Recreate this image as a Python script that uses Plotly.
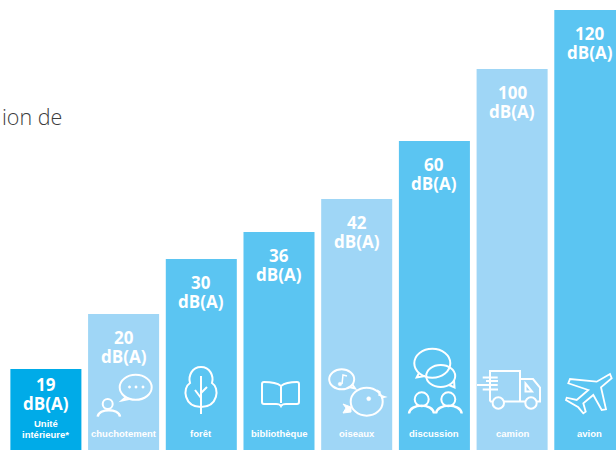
import plotly.graph_objects as go

categories = ["Unité<br>intérieure*", "chuchotement", "forêt", "bibliothèque", "oiseaux", "discussion", "camion", "avion"]
db_values = [19, 20, 30, 36, 42, 60, 100, 120]
# Bar lengths as drawn in the picture: they are not proportional to the dB values.
bar_lengths = [81, 136, 191, 218, 251, 309, 381, 440]
bar_colors = ["#00ABE8", "#9FD6F6", "#5BC5F2", "#5BC5F2", "#9FD6F6", "#5BC5F2", "#9FD6F6", "#5BC5F2"]
unit = "dB(A)"
fragment = "ion de"

WHITE = "#FFFFFF"
VALUE_FONT = "Open Sans"
LABEL_FONT = "Liberation Sans"

fig = go.Figure()
xs = list(range(len(categories)))
fig.add_bar(x=xs, y=bar_lengths, width=0.914, marker=dict(color=bar_colors, line_width=0), hoverinfo="skip")
fig.add_scatter(x=[], y=[], xaxis="x2", yaxis="y2", hoverinfo="skip")

ann = []
for i, (v, h) in enumerate(zip(db_values, bar_lengths)):
    off = 15 if i == 0 else 23
    ann.append(dict(x=i, y=h, xref="x", yref="y", text=f"<b>{v}</b>", showarrow=False, yanchor="middle",
                    yshift=-off, font=dict(family=VALUE_FONT, size=17, color=WHITE)))
    ann.append(dict(x=i, y=h, xref="x", yref="y", text=f"<b>{unit}</b>", showarrow=False, yanchor="middle",
                    yshift=-(off + 19), font=dict(family=VALUE_FONT, size=17, color=WHITE)))
    if "<br>" in categories[i]:
        a, b = categories[i].split("<br>")
        lines = [(a, 27), (b, 16)]
    else:
        lines = [(categories[i], 17)]
    for t, yy in lines:
        ann.append(dict(x=i, y=yy, xref="x", yref="y", text=f"<b>{t}</b>", showarrow=False, yanchor="middle",
                        font=dict(family=LABEL_FONT, size=9.5, color=WHITE)))
ann.append(dict(x=0, y=116, xref="x2", yref="y2", text=fragment, showarrow=False, xanchor="left", yanchor="middle",
                font=dict(family="Open Sans", size=21.5, color="#3C3C3C", weight=300)))

shapes = []
def stroke(path, w=2, fill=None):
    s = dict(type="path", path=path, xref="x2", yref="y2", line=dict(color=WHITE, width=w), layer="above")
    if fill:
        s["fillcolor"] = fill
    shapes.append(s)

def ell(cx, cy, rx, ry=None, w=2, fill=False):
    ry = rx if ry is None else ry
    s = dict(type="circle", x0=cx - rx, x1=cx + rx, y0=cy - ry, y1=cy + ry, xref="x2", yref="y2",
             line=dict(color=WHITE, width=w), layer="above")
    if fill:
        s["fillcolor"] = WHITE
    shapes.append(s)

def person(cx, hy, r, sl, sr, base, peak):
    ell(cx, hy, r)
    stroke(f"M{sl},{base} C{sl+1},{peak} {sr-1},{peak} {sr},{base}", w=2.4)

# whisper
ell(135.7, 387.3, 16, 12.5)
stroke("M126,397 L122,400.5 L129,399")
for dx in (129.5, 136, 143):
    ell(dx, 387, 1.2, w=0.5, fill=True)
person(107.7, 404, 5, 97.7, 120, 416.7, 408)
# tree
stroke("M201,367 C192,367 188,376 190,383 C182,388 184,407 201,407 C218,407 220,388 212,383 C214,376 210,367 201,367 Z")
stroke("M201,376 L201,414 M201,398 L195,390 M201,393 L207,387")
# book
stroke("M281,386 C276,382 268,382 264,382 Q262,382 262,384 L262,402 Q262,404 264,404 L276,404 Q280,404 281,406 Q282,404 286,404 L297,404 Q299,404 299,402 L299,384 Q299,382 297,382 C293,382 286,382 281,386 Z M281,386 L281,403")
# birds
ell(341.7, 379.3, 12.5, 10)
stroke("M349,387 L355,388.5 L352,384")
stroke("M342,384 L343,375 L347,376", w=1.5)
ell(340, 384, 1.8, w=0.5, fill=True)
ell(366.7, 401.7, 16, 14)
ell(368.7, 398.7, 2, w=0.5, fill=True)
stroke("M377,390 L380,392 L379,395 L385,397 L381,398", w=1.5)
stroke("M351,407 L343,404 L346,408 L343,413 L351,412 Z", w=1, fill=WHITE)
# discussion
ell(432.3, 363.3, 18, 14.5)
stroke("M419,373 L416.7,377.5 L425,376")
ell(440.7, 376, 14.5, 11)
stroke("M449,385 L454.5,387.5 L454,380")
person(421.7, 399.3, 7, 409, 434, 413.5, 403)
person(448.3, 399.3, 7, 436, 461.7, 413.5, 403)
# truck
stroke("M490,401.5 L490,371 L520,371 L520,401.5 M520,379 L533,379 L540,387.5 L540,401.5 L537,401.5 M525,401.5 L520,401.5 L504,401.5 M492,401.5 L490,401.5")
stroke("M525.5,383.5 L532,391.5 L525.5,391.5 Z")
ell(498.3, 403, 5.7)
ell(531, 403, 5.7)
stroke("M482.7,377.5 L497.7,377.5 M486,381 L498,381 M477,385 L497.7,385 M482.7,389.5 L498,389.5")
# plane
pts = [(900, 222), (860, 245), (780, 237), (775, 250), (835, 270), (800, 300), (770, 293), (768, 300), (805, 322),
       (820, 340), (827, 335), (820, 310), (850, 285), (875, 330), (888, 328), (873, 262), (905, 235)]
stroke("M" + " L".join(f"{310 + a / 3:.1f},{300 + b / 3:.1f}" for a, b in pts) + " Z", w=1.8)

fig.update_layout(
    width=616, height=450, margin=dict(l=0, r=0, t=0, b=0), autosize=False,
    paper_bgcolor="white", plot_bgcolor="white", showlegend=False,
    xaxis=dict(range=[-0.5906, 7.337], visible=False, fixedrange=True),
    yaxis=dict(range=[0, 450], visible=False, fixedrange=True),
    xaxis2=dict(range=[0, 616], visible=False, overlaying="x", fixedrange=True),
    yaxis2=dict(range=[450, 0], visible=False, overlaying="y", fixedrange=True),
    annotations=ann, shapes=shapes,
)
fig.write_html("out.html", config=dict(displayModeBar=False),
               post_script="document.body.style.margin='0';document.documentElement.style.overflow='hidden';")
